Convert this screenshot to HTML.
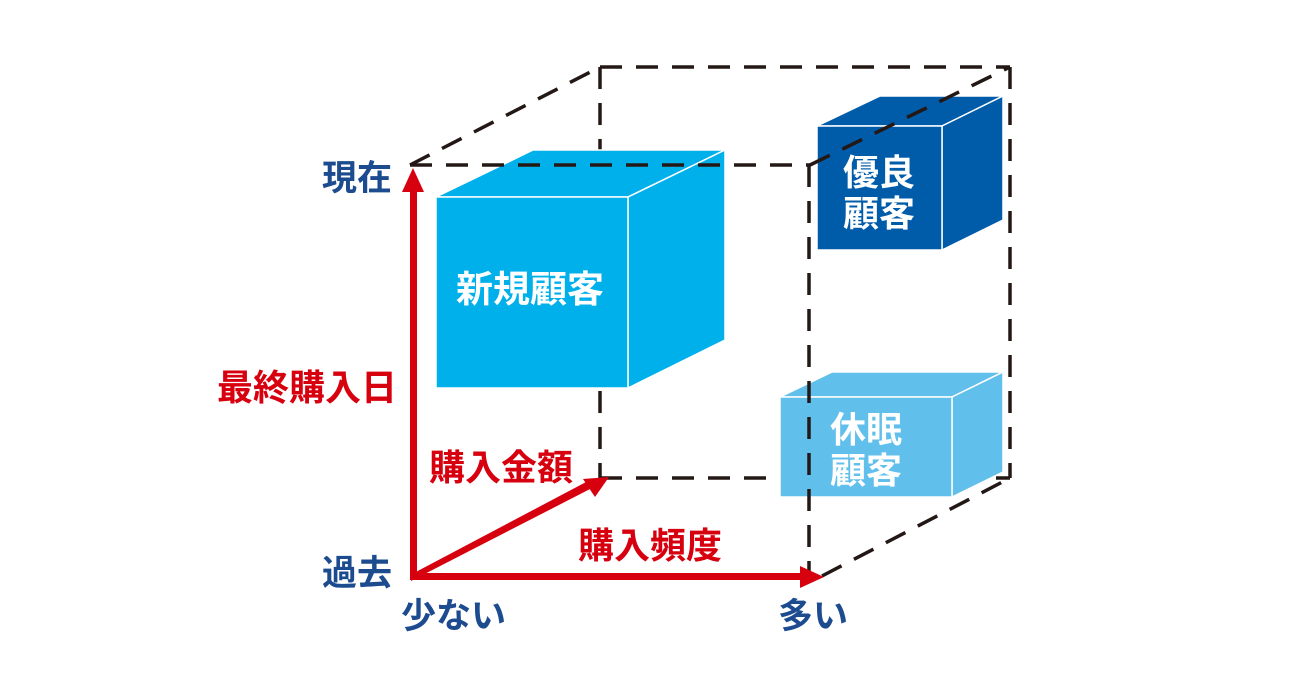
<!DOCTYPE html>
<html><head><meta charset="utf-8"><style>
html,body{margin:0;padding:0;background:#fff;}
svg{display:block;}
text{font-family:"Liberation Sans","Noto Sans CJK JP",sans-serif;font-weight:bold;}
</style></head><body>
<svg width="1300" height="700" viewBox="0 0 1300 700" xmlns="http://www.w3.org/2000/svg">
<g stroke="#231815" stroke-width="3.5" fill="none" stroke-dasharray="22,14">
  <line x1="600" y1="67" x2="600" y2="478"/>
  <line x1="600" y1="478" x2="1010" y2="478"/>
</g>
<!-- new customer box -->
<g stroke="#fff" stroke-width="1.5">
  <polygon points="436,197 628,197 725,150 533,150" fill="#00b0eb"/>
  <polygon points="628,197 725,150 725,340 628,388" fill="#00b0eb"/>
  <rect x="436" y="197" width="192" height="191" fill="#00b0eb"/>
</g>
<text x="530" y="302" fill="#fff" font-size="37" text-anchor="middle">新規顧客</text>
<!-- dark box -->
<g stroke="#fff" stroke-width="1.5">
  <polygon points="817,126 942,126 1003,96 880,96" fill="#005ba8"/>
  <polygon points="942,126 1003,96 1003,220 942,250" fill="#005ba8"/>
  <rect x="817" y="126" width="125" height="124" fill="#005ba8"/>
</g>
<text x="879" y="185" fill="#fff" font-size="36" text-anchor="middle">優良</text>
<text x="879" y="226" fill="#fff" font-size="36" text-anchor="middle">顧客</text>
<!-- light box -->
<g stroke="#fff" stroke-width="1.5">
  <polygon points="780,397 952,397 1003,372 832,372" fill="#61bfec"/>
  <polygon points="952,397 1003,372 1003,472 952,497" fill="#61bfec"/>
  <rect x="780" y="397" width="172" height="100" fill="#61bfec"/>
</g>
<text x="866" y="442" fill="#fff" font-size="36" text-anchor="middle">休眠</text>
<text x="866" y="483" fill="#fff" font-size="36" text-anchor="middle">顧客</text>
<g stroke="#231815" stroke-width="3.5" fill="none" stroke-dasharray="22,14">
  <line x1="410" y1="165" x2="810" y2="165"/>
  <line x1="410" y1="165" x2="600" y2="67"/>
  <line x1="600" y1="67" x2="1010" y2="67"/>
  <line x1="1010" y1="67" x2="1010" y2="478"/>
  <line x1="810" y1="165" x2="1010" y2="67"/>
  <line x1="809" y1="165" x2="809" y2="572"/>
  <line x1="822" y1="576" x2="1010" y2="478"/>
</g>
<!-- red axes -->
<g fill="#d7000f" stroke="none">
  <rect x="410" y="185" width="7" height="395"/>
  <polygon points="413,168 402,192 424,192"/>
  <rect x="410" y="573" width="392" height="7"/>
  <polygon points="824,577 800,566 800,588"/>
  <polygon points="411,581 412,574 588,481 592,488"/>
  <polygon points="609,477 583,479 595,497"/>
</g>
<g fill="#1d4b8f" font-size="35">
  <text x="322" y="190">現在</text>
  <text x="322" y="585">過去</text>
  <text x="401" y="628">少ない</text>
  <text x="778" y="628">多い</text>
</g>
<g fill="#d7000f" font-size="36">
  <text x="217" y="400">最終購入日</text>
  <text x="429" y="480">購入金額</text>
  <text x="578" y="558">購入頻度</text>
</g>
</svg>
</body></html>
